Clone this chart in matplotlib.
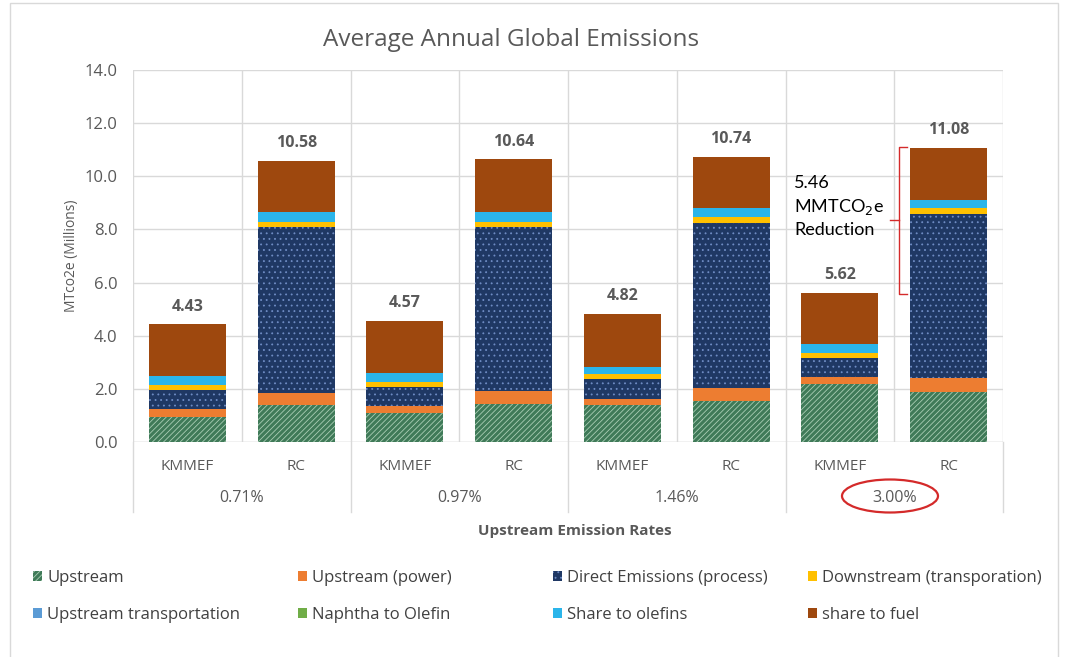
import matplotlib
matplotlib.use("Agg")
import matplotlib.pyplot as plt
from matplotlib.patches import Ellipse, Rectangle
import numpy as np

plt.rcParams['font.family'] = ['Open Sans', 'DejaVu Sans']
plt.rcParams['hatch.linewidth'] = 0.6

categories = ["KMMEF", "RC", "KMMEF", "RC", "KMMEF", "RC", "KMMEF", "RC"]
rates = ["0.71%", "0.97%", "1.46%", "3.00%"]
series_names = ["Upstream", "Upstream (power)", "Direct Emissions (process)",
                "Downstream (transporation)", "Upstream transportation",
                "Naphtha to Olefin", "Share to olefins", "share to fuel"]
upstream = [0.95, 1.39, 1.08, 1.43, 1.39, 1.56, 2.17, 1.89]
upstream_power = [0.28, 0.47, 0.27, 0.50, 0.22, 0.46, 0.26, 0.51]
direct = [0.73, 6.22, 0.71, 6.17, 0.75, 6.23, 0.72, 6.18]
downstream = [0.18, 0.19, 0.21, 0.19, 0.20, 0.21, 0.19, 0.22]
upstream_transport = [0, 0, 0, 0, 0, 0, 0, 0]
naphtha = [0, 0, 0, 0, 0, 0, 0, 0]
share_olefins = [0.34, 0.40, 0.34, 0.38, 0.28, 0.34, 0.35, 0.31]
share_fuel = [1.95, 1.91, 1.96, 1.97, 1.98, 1.94, 1.93, 1.97]
totals = [4.43, 10.58, 4.57, 10.64, 4.82, 10.74, 5.62, 11.08]

series = [upstream, upstream_power, direct, downstream, upstream_transport,
          naphtha, share_olefins, share_fuel]
colors = ["#3f7a58", "#ED7D31", "#1F3864", "#FFC000", "#5B9BD5", "#70AD47",
          "#2BB5EA", "#9E480E"]
hatches = ["//////", None, "...", None, None, None, None, None]
hatch_cols = ["#a9cdb4", None, "#6f8cc4", None, None, None, None, None]

grey = "#595959"

fig = plt.figure(figsize=(10.66, 6.57), dpi=100)
fig.patches.append(Rectangle((10/1066, -0.01), 1048/1066, 1.0 - 3/657 + 0.01,
                             transform=fig.transFigure, fill=False,
                             edgecolor="#d9d9d9", linewidth=1.0))
ax = fig.add_axes([133/1066, 1 - 442/657, 870/1066, 372/657])

x = np.arange(len(categories))
bottom = np.zeros(len(categories))
handles = []
for name, vals, c, h, hc in zip(series_names, series, colors, hatches, hatch_cols):
    vals = np.array(vals, dtype=float)
    b = ax.bar(x, vals, width=0.71, bottom=bottom, color=c, label=name,
               zorder=3, linewidth=0)
    if h:
        for p in b:
            p.set_hatch(h)
            p.set_edgecolor(hc)
            p.set_linewidth(0)
    handles.append(b)
    bottom += vals

for xi, t in zip(x, totals):
    ax.annotate(f"{t:.2f}", (xi, t), xytext=(0, 7), textcoords="offset points",
                ha="center", va="bottom", fontsize=11.5, color=grey,
                fontweight="bold")

ax.set_xlim(-0.5, 7.5)
ax.set_ylim(0, 14)
ax.set_yticks(np.arange(0, 14.1, 2))
ax.set_yticklabels([f"{v:.1f}" for v in np.arange(0, 14.1, 2)])
ax.set_xticks(x)
ax.set_xticklabels(categories)
ax.set_xticks(np.arange(-0.5, 7.6, 1), minor=True)
ax.tick_params(axis="x", which="both", length=0, pad=12, labelsize=11, labelcolor=grey)
ax.tick_params(axis="y", length=0, pad=11, labelsize=12, labelcolor=grey)
ax.grid(axis="y", color="#d9d9d9", linewidth=1.0, zorder=0)
ax.grid(axis="x", which="minor", color="#d9d9d9", linewidth=1.0, zorder=0)
ax.grid(axis="x", which="major", visible=False)
for s in ax.spines.values():
    s.set_visible(False)
ax.axhline(0, color="#d9d9d9", linewidth=1.0, zorder=2)

ax.set_ylabel("MTco2e (Millions)", fontsize=10, color=grey, labelpad=4)

# second-level group labels and separators
trans = ax.get_xaxis_transform()
for i, r in enumerate(rates):
    ax.text(2 * i + 0.5, -56 / 372, r, transform=trans, ha="center", va="center",
            fontsize=11.5, color=grey)
for xs in [-0.5, 1.5, 3.5, 5.5, 7.5]:
    ax.plot([xs, xs], [0, -70 / 372], transform=trans, color="#d9d9d9",
            linewidth=1.0, clip_on=False)

fig.text(575 / 1066, 1 - 531 / 657, "Upstream Emission Rates", ha="center",
         va="center", fontsize=11, fontweight="bold", color=grey)
fig.text(511 / 1066, 1 - 40 / 657, "Average Annual Global Emissions", ha="center",
         va="center", fontsize=17.5, color=grey)

# annotation bracket and text
bx, tip_r, tip_l = 6.544, 6.614, 6.46
ytop, ybot, ymid = 11.11, 5.57, 8.36
red = "#d42a2a"
ax.plot([tip_r, bx, bx, tip_r], [ytop, ytop, ybot, ybot], color=red,
        linewidth=1.0, zorder=5)
ax.plot([tip_l, bx], [ymid, ymid], color=red, linewidth=1.0, zorder=5)
ax.text(5.58, 8.85, "5.46\nMMTCO$_2$e\nReduction", ha="left", va="center",
        fontsize=13, color="black", linespacing=1.4, zorder=6,
        family=["Lato", "DejaVu Sans"])

fig.patches.append(Ellipse((890 / 1066, 1 - 496 / 657), 96 / 1066, 33 / 657,
                           transform=fig.transFigure, fill=False,
                           edgecolor="#d42a2a", linewidth=1.6))

# legend: four columns, two rows
col_x = [33 / 1066, 298 / 1066, 553 / 1066, 808 / 1066]
for ci in range(4):
    hs = [handles[ci], handles[ci + 4]]
    ls = [series_names[ci], series_names[ci + 4]]
    leg = fig.legend(hs, ls, loc="upper left", bbox_to_anchor=(col_x[ci], 1 - 570 / 657),
                     frameon=False, fontsize=12, handlelength=0.55,
                     handleheight=0.55, handletextpad=0.3, labelspacing=1.25,
                     borderaxespad=0, borderpad=0)
    for t in leg.get_texts():
        t.set_color("#404040")

fig.savefig("out.png", dpi=100)
